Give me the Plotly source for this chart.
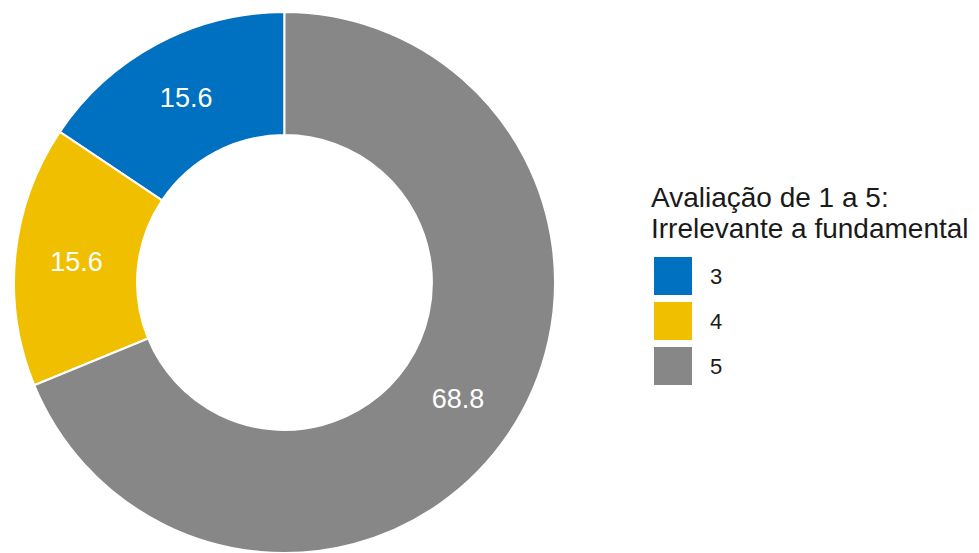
import plotly.graph_objects as go

# Survey answers (rating 1-5), share of respondents in %
categories = ["3", "4", "5"]
values = [15.6, 15.6, 68.8]
colors = ["#0070C0", "#F0C000", "#878787"]
legend_title = ["Avaliação de 1 a 5:", "Irrelevante a fundamental"]

W, H = 979, 553
FONT = "Arial, Liberation Sans, Helvetica, sans-serif"

# first slice starts at 12 o'clock and the slices run counterclockwise
first_share = values[0] / sum(values)

fig = go.Figure(
    go.Pie(
        labels=categories,
        values=values,
        hole=0.545,
        sort=False,
        direction="counterclockwise",
        rotation=-360 * first_share,
        marker=dict(colors=colors, line=dict(color="white", width=2)),
        texttemplate="%{value:.1f}",
        textposition="inside",
        insidetextorientation="horizontal",
        textfont=dict(color="white", size=27, family=FONT),
        domain=dict(x=[13.0 / W, 556.0 / W], y=[0, (H - 12.0) / H]),
        showlegend=False,
        hoverinfo="label+value",
    )
)

# Legend drawn by hand: large square swatches next to each category
shapes = []
annotations = []
sw, x0, y_top, pitch = 38, 654, 257, 45
for i, (cat, col) in enumerate(zip(categories, colors)):
    top = y_top + i * pitch
    shapes.append(dict(
        type="rect", xref="paper", yref="paper",
        x0=x0 / W, x1=(x0 + sw) / W,
        y0=(H - top - sw) / H, y1=(H - top) / H,
        fillcolor=col, line=dict(width=0),
    ))
    annotations.append(dict(
        text=cat, xref="paper", yref="paper",
        x=708 / W, y=(H - top - sw / 2) / H,
        xanchor="left", yanchor="middle", showarrow=False,
        font=dict(size=22, color="#1a1a1a", family=FONT),
    ))

# Legend title, one annotation per line for tighter line spacing
for j, line in enumerate(legend_title):
    annotations.append(dict(
        text=line, xref="paper", yref="paper",
        x=649 / W, y=(H - (197 + 31 * j)) / H,
        xanchor="left", yanchor="middle",
        align="left", showarrow=False,
        font=dict(size=28, color="#1a1a1a", family=FONT),
    ))

fig.update_layout(
    width=W, height=H,
    margin=dict(l=0, r=0, t=0, b=0),
    paper_bgcolor="white", plot_bgcolor="white",
    shapes=shapes, annotations=annotations,
)

fig.write_html("out.html")
